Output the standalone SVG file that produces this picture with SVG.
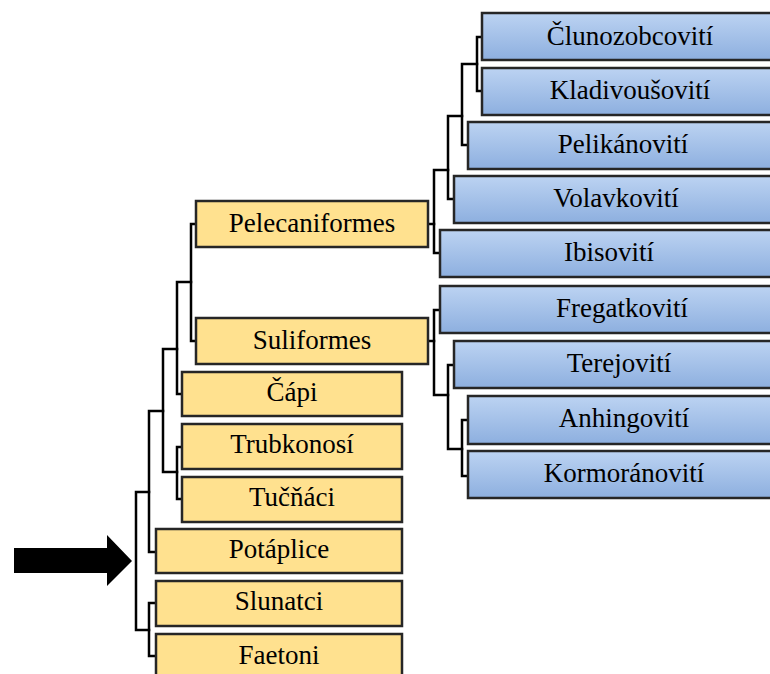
<svg xmlns="http://www.w3.org/2000/svg" width="770" height="674" viewBox="0 0 770 674">
  <defs>
    <linearGradient id="blueFill" x1="0" y1="0" x2="0" y2="1">
      <stop offset="0" stop-color="#BCD3F2"/>
      <stop offset="1" stop-color="#8DAFDF"/>
    </linearGradient>
  </defs>
  <style>
    .box { stroke: #262626; stroke-width: 2.5; }
    .order { fill: #FFE18F; }
    .family { fill: url(#blueFill); }
    .label { font-family: "Liberation Serif", "Times New Roman", serif; font-size: 27px; fill: #000; text-anchor: middle; }
    .link { fill: none; stroke: #000; stroke-width: 2.5; stroke-linejoin: miter; stroke-linecap: square; }
  </style>
  <rect width="770" height="674" fill="#fff"/>

  <!-- tree connectors -->
  <g id="connectors">
    <!-- families of Pelecaniformes -->
    <path class="link" d="M482,37 H477 V91 H482"/>
    <path class="link" d="M477,64 H462 V145 H468"/>
    <path class="link" d="M462,116 H448 V199 H454"/>
    <path class="link" d="M448,170 H434 V253 H440"/>
    <path class="link" d="M428,224 H434"/>
    <!-- families of Suliformes -->
    <path class="link" d="M440,310 H434 V395 H448"/>
    <path class="link" d="M428,341 H434"/>
    <path class="link" d="M454,365 H448 V449 H462"/>
    <path class="link" d="M468,420 H462 V476 H468"/>
    <!-- orders -->
    <path class="link" d="M196,224 H191 V341 H196"/>
    <path class="link" d="M191,282 H177 V394 H182"/>
    <path class="link" d="M177,349 H163 V472 H177"/>
    <path class="link" d="M182,447 H177 V499 H182"/>
    <path class="link" d="M163,411 H149 V552 H155"/>
    <path class="link" d="M149,492 H136 V630 H149"/>
    <path class="link" d="M155,603 H149 V656 H155"/>
  </g>

  <!-- pointer arrow -->
  <g id="arrow">
    <polygon points="14,548 107,548 107,535 132,561 107,586 107,573 14,573" fill="#000"/>
  </g>

  <!-- orders (yellow) -->
  <g id="pelecaniformes">
    <rect class="box order" x="196" y="201" width="232" height="46"/>
    <text class="label" x="312" y="232">Pelecaniformes</text>
  </g>
  <g id="suliformes">
    <rect class="box order" x="196" y="318" width="232" height="46"/>
    <text class="label" x="312" y="349">Suliformes</text>
  </g>
  <g id="capi">
    <rect class="box order" x="182" y="372" width="220" height="44"/>
    <text class="label" x="292" y="401">Čápi</text>
  </g>
  <g id="trubkonosi">
    <rect class="box order" x="182" y="424" width="220" height="45"/>
    <text class="label" x="292" y="453">Trubkonosí</text>
  </g>
  <g id="tucnaci">
    <rect class="box order" x="182" y="477" width="220" height="45"/>
    <text class="label" x="292" y="506">Tučňáci</text>
  </g>
  <g id="potaplice">
    <rect class="box order" x="156" y="529" width="246" height="44"/>
    <text class="label" x="279" y="558">Potáplice</text>
  </g>
  <g id="slunatci">
    <rect class="box order" x="156" y="581" width="246" height="45"/>
    <text class="label" x="279" y="610">Slunatci</text>
  </g>
  <g id="faetoni">
    <rect class="box order" x="156" y="634" width="246" height="50"/>
    <text class="label" x="279" y="664">Faetoni</text>
  </g>

  <!-- families (blue) -->
  <g id="clunozobcoviti">
    <rect class="box family" x="482" y="13" width="298" height="47"/>
    <text class="label" x="630" y="45">Člunozobcovití</text>
  </g>
  <g id="kladivousoviti">
    <rect class="box family" x="482" y="68" width="298" height="47"/>
    <text class="label" x="630" y="99">Kladivoušovití</text>
  </g>
  <g id="pelikanoviti">
    <rect class="box family" x="468" y="122" width="312" height="47"/>
    <text class="label" x="623" y="153">Pelikánovití</text>
  </g>
  <g id="volavkoviti">
    <rect class="box family" x="454" y="176" width="326" height="47"/>
    <text class="label" x="616" y="207">Volavkovití</text>
  </g>
  <g id="ibisoviti">
    <rect class="box family" x="440" y="230" width="340" height="47"/>
    <text class="label" x="609" y="261">Ibisovití</text>
  </g>
  <g id="fregatkoviti">
    <rect class="box family" x="440" y="286" width="340" height="47"/>
    <text class="label" x="622" y="317">Fregatkovití</text>
  </g>
  <g id="terejoviti">
    <rect class="box family" x="454" y="341" width="326" height="47"/>
    <text class="label" x="619" y="372">Terejovití</text>
  </g>
  <g id="anhingoviti">
    <rect class="box family" x="468" y="396" width="312" height="48"/>
    <text class="label" x="624" y="427">Anhingovití</text>
  </g>
  <g id="kormoranoviti">
    <rect class="box family" x="468" y="451" width="312" height="47"/>
    <text class="label" x="624" y="482">Kormoránovití</text>
  </g>
</svg>
